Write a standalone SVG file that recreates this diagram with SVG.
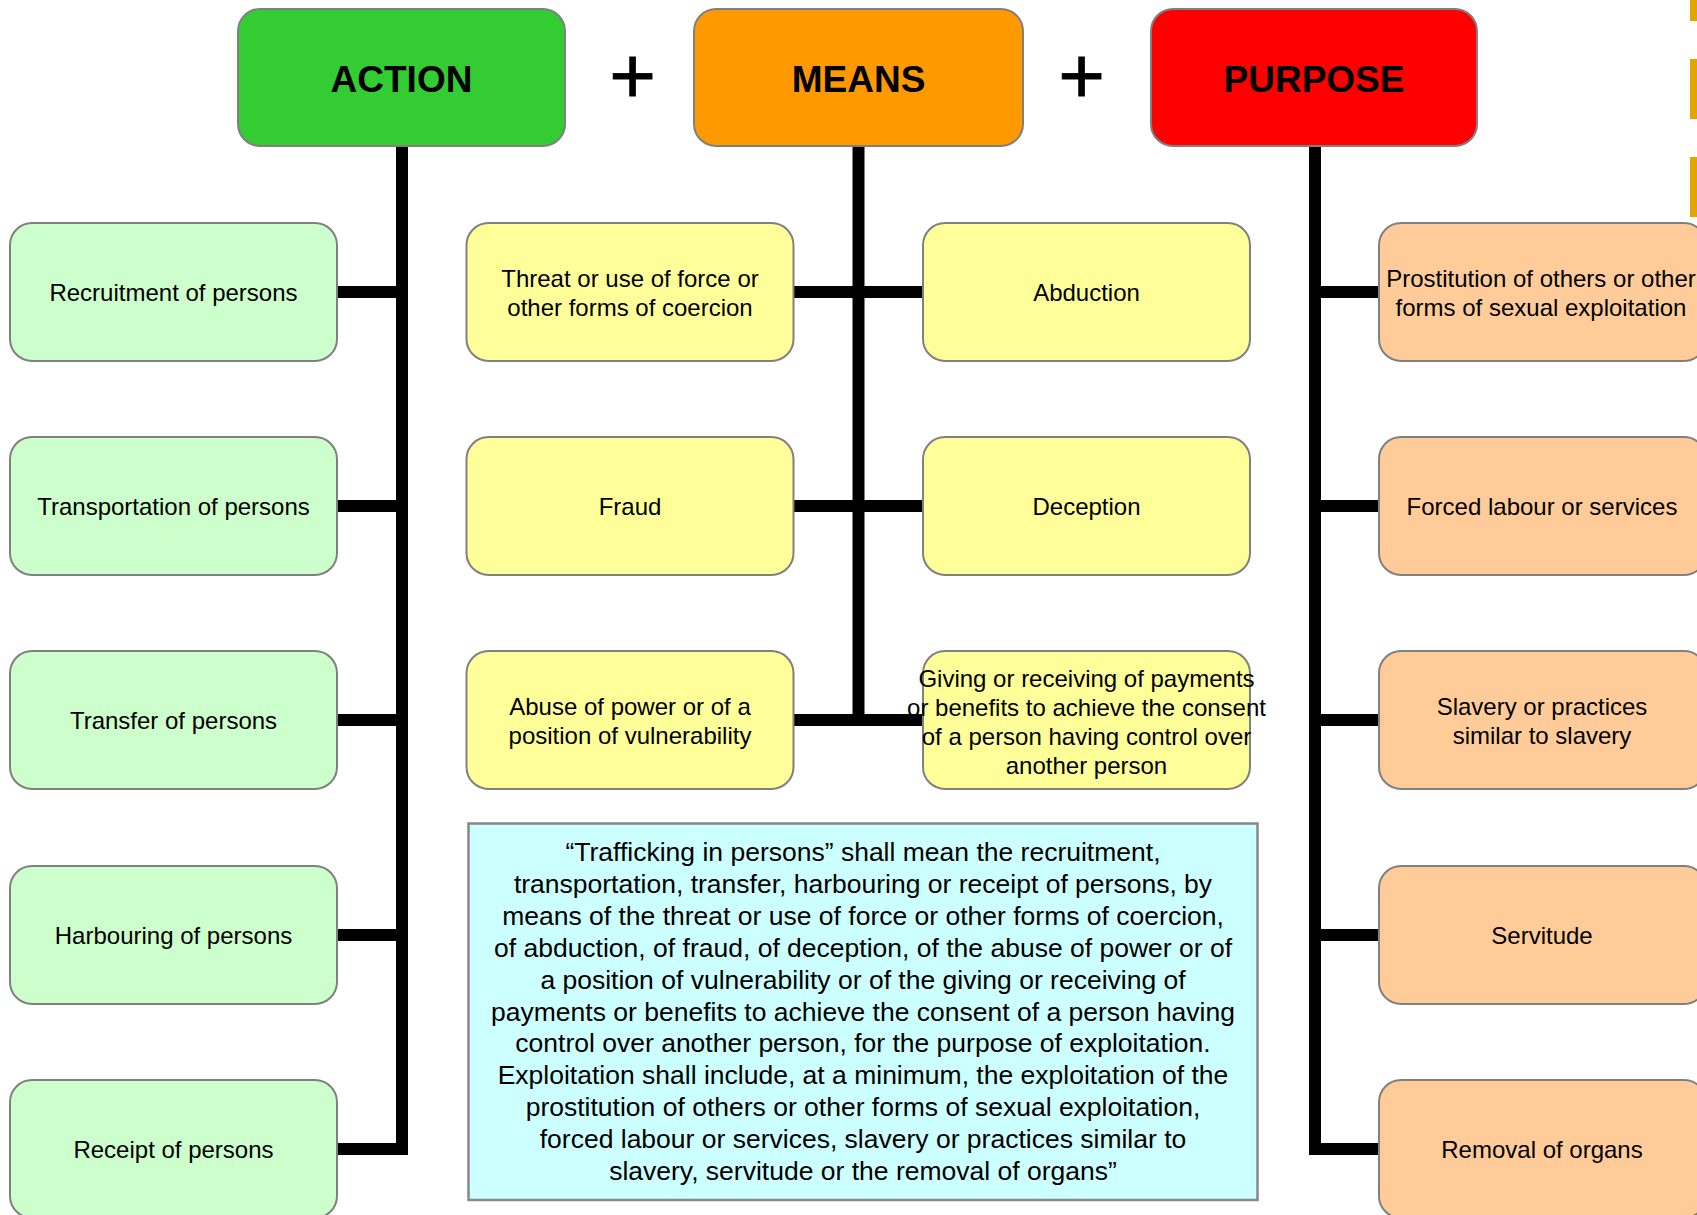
<svg xmlns="http://www.w3.org/2000/svg" width="1697" height="1215" viewBox="0 0 1697 1215">
<style>
.box{stroke:#808080;stroke-width:2}
.hdr{font-family:"Liberation Sans",Arial,sans-serif;font-weight:bold;font-size:37px;fill:#000;text-anchor:middle}
.lbl{font-family:"Liberation Sans",Arial,sans-serif;font-size:24px;fill:#000;text-anchor:middle}
.def{font-family:"Liberation Sans",Arial,sans-serif;font-size:26.5px;fill:#000;text-anchor:middle}
.plus{font-family:"Liberation Sans",Arial,sans-serif;font-size:80px;fill:#000;stroke:#000;stroke-width:0.8;text-anchor:middle}
.green{fill:#CCFFCC}.yellow{fill:#FFFF99}.orange{fill:#FFCC99}
.conn{fill:none;stroke:#000;stroke-width:12;stroke-linejoin:miter;stroke-linecap:butt}
.gold{fill:#E0A500}
</style>
<rect width="1697" height="1215" fill="#fff"/>
<g id="gold-bars">
<rect class="gold" x="1690" y="0" width="7" height="21"/>
<rect class="gold" x="1690" y="59" width="7" height="60"/>
<rect class="gold" x="1690" y="157" width="7" height="60"/>
</g>
<g id="connectors">
<path class="conn" d="M402,146 V1149 H337"/>
<path class="conn" d="M337,292 H402 M337,506 H402 M337,720 H402 M337,935 H402"/>
<path class="conn" d="M858.5,146 V720"/>
<path class="conn" d="M793,292 H923 M793,506 H923 M793,720 H923"/>
<path class="conn" d="M1315,146 V1149 H1379"/>
<path class="conn" d="M1315,292 H1379 M1315,506 H1379 M1315,720 H1379 M1315,935 H1379"/>
</g>
<g id="plus1"><text class="plus" x="632.5" y="103">+</text></g>
<g id="plus2"><text class="plus" x="1081.5" y="103">+</text></g>
<g id="action"><rect class="box" x="238" y="9" width="327" height="137" rx="22" fill="#33CC33"/><text class="hdr" x="401.5" y="91.5">ACTION</text></g>
<g id="means"><rect class="box" x="694" y="9" width="329" height="137" rx="22" fill="#FF9900"/><text class="hdr" x="858.5" y="91.5">MEANS</text></g>
<g id="purpose"><rect class="box" x="1151" y="9" width="326" height="137" rx="22" fill="#FF0000"/><text class="hdr" x="1314" y="91.5">PURPOSE</text></g>

<g id="recruitment"><rect class="box green" x="10" y="223" width="327" height="138" rx="22"/><text class="lbl" x="173.5" y="301">Recruitment of persons</text></g>
<g id="transportation"><rect class="box green" x="10" y="437" width="327" height="138" rx="22"/><text class="lbl" x="173.5" y="515">Transportation of persons</text></g>
<g id="transfer"><rect class="box green" x="10" y="651" width="327" height="138" rx="22"/><text class="lbl" x="173.5" y="729">Transfer of persons</text></g>
<g id="harbouring"><rect class="box green" x="10" y="866" width="327" height="138" rx="22"/><text class="lbl" x="173.5" y="944">Harbouring of persons</text></g>
<g id="receipt"><rect class="box green" x="10" y="1080" width="327" height="138" rx="22"/><text class="lbl" x="173.5" y="1158">Receipt of persons</text></g>

<g id="threat"><rect class="box yellow" x="466.5" y="223" width="327" height="138" rx="22"/><text class="lbl" x="630" y="287">Threat or use of force or</text><text class="lbl" x="630" y="316">other forms of coercion</text></g>
<g id="abduction"><rect class="box yellow" x="923" y="223" width="327" height="138" rx="22"/><text class="lbl" x="1086.5" y="301">Abduction</text></g>
<g id="fraud"><rect class="box yellow" x="466.5" y="437" width="327" height="138" rx="22"/><text class="lbl" x="630" y="515">Fraud</text></g>
<g id="deception"><rect class="box yellow" x="923" y="437" width="327" height="138" rx="22"/><text class="lbl" x="1086.5" y="515">Deception</text></g>
<g id="abuse"><rect class="box yellow" x="466.5" y="651" width="327" height="138" rx="22"/><text class="lbl" x="630" y="715">Abuse of power or of a</text><text class="lbl" x="630" y="744">position of vulnerability</text></g>
<g id="giving"><rect class="box yellow" x="923" y="651" width="327" height="138" rx="22"/><text class="lbl" x="1086.5" y="686.5">Giving or receiving of payments</text><text class="lbl" x="1086.5" y="715.5">or benefits to achieve the consent</text><text class="lbl" x="1086.5" y="744.5">of a person having control over</text><text class="lbl" x="1086.5" y="773.5">another person</text></g>

<g id="prostitution"><rect class="box orange" x="1379" y="223" width="327" height="138" rx="22"/><text class="lbl" x="1541" y="287">Prostitution of others or other</text><text class="lbl" x="1541" y="316">forms of sexual exploitation</text></g>
<g id="forced-labour"><rect class="box orange" x="1379" y="437" width="327" height="138" rx="22"/><text class="lbl" x="1542" y="515">Forced labour or services</text></g>
<g id="slavery"><rect class="box orange" x="1379" y="651" width="327" height="138" rx="22"/><text class="lbl" x="1542" y="715">Slavery or practices</text><text class="lbl" x="1542" y="744">similar to slavery</text></g>
<g id="servitude"><rect class="box orange" x="1379" y="866" width="327" height="138" rx="22"/><text class="lbl" x="1542" y="944">Servitude</text></g>
<g id="organs"><rect class="box orange" x="1379" y="1080" width="327" height="138" rx="22"/><text class="lbl" x="1542" y="1158">Removal of organs</text></g>

<g id="definition">
<rect x="468.5" y="823.5" width="789" height="376.5" fill="#CCFFFF" stroke="#888888" stroke-width="2.5"/>
<text class="def" x="863" y="861">“Trafficking in persons” shall mean the recruitment,</text>
<text class="def" x="863" y="892.9">transportation, transfer, harbouring or receipt of persons, by</text>
<text class="def" x="863" y="924.8">means of the threat or use of force or other forms of coercion,</text>
<text class="def" x="863" y="956.7">of abduction, of fraud, of deception, of the abuse of power or of</text>
<text class="def" x="863" y="988.6">a position of vulnerability or of the giving or receiving of</text>
<text class="def" x="863" y="1020.5">payments or benefits to achieve the consent of a person having</text>
<text class="def" x="863" y="1052.4">control over another person, for the purpose of exploitation.</text>
<text class="def" x="863" y="1084.3">Exploitation shall include, at a minimum, the exploitation of the</text>
<text class="def" x="863" y="1116.2">prostitution of others or other forms of sexual exploitation,</text>
<text class="def" x="863" y="1148.1">forced labour or services, slavery or practices similar to</text>
<text class="def" x="863" y="1180">slavery, servitude or the removal of organs”</text>
</g>
</svg>
